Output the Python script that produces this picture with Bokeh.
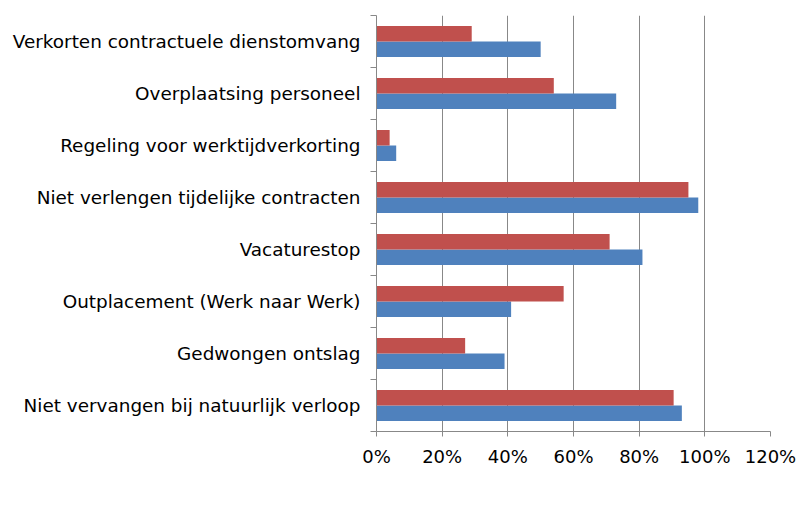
from bokeh.plotting import figure
from bokeh.models import (Range1d, FixedTicker, PrintfTickFormatter, Legend, LegendItem,
                          ColumnDataSource)
from bokeh.layouts import column
from bokeh.embed import file_html
from bokeh.resources import INLINE

categories = [
    "Verkorten contractuele dienstomvang",
    "Overplaatsing personeel",
    "Regeling voor werktijdverkorting",
    "Niet verlengen tijdelijke contracten",
    "Vacaturestop",
    "Outplacement (Werk naar Werk)",
    "Gedwongen ontslag",
    "Niet vervangen bij natuurlijk verloop",
]
wjk = [50, 73, 6, 98, 81, 41, 39, 93]
zorg = [29, 54, 4, 95, 71, 57, 27, 90.5]
x_ticks = [0, 20, 40, 60, 80, 100, 120]
series_names = ["WJK", "Zorg"]
series_colors = ["#4F81BD", "#C0504D"]

FONT = "DejaVu Sans"
FS = "18px"
FS_Y = "18.4px"
GRAY = "#888888"

n = len(categories)
centers = [n - 0.5 - i for i in range(n)]
bar_h = 0.3

src = ColumnDataSource(dict(
    y_wjk=[c - bar_h / 2 for c in centers],
    y_zorg=[c + bar_h / 2 for c in centers],
    wjk=wjk, zorg=zorg, cat=categories,
))

p = figure(width=797, height=497, output_backend="svg", toolbar_location=None,
           x_range=Range1d(0, 120), y_range=Range1d(0, n),
           min_border_left=376, min_border_right=27, min_border_top=15, min_border_bottom=66)
p.outline_line_color = None
p.background_fill_color = "white"
p.border_fill_color = "white"

p.hbar(y="y_wjk", right="wjk", left=0, height=bar_h, source=src,
       fill_color=series_colors[0], line_color=None)
p.hbar(y="y_zorg", right="zorg", left=0, height=bar_h, source=src,
       fill_color=series_colors[1], line_color=None)

# x axis
xa = p.xaxis[0]
xa.ticker = FixedTicker(ticks=x_ticks)
xa.formatter = PrintfTickFormatter(format="%d%%")
xa.axis_line_color = GRAY
xa.major_tick_line_color = GRAY
xa.major_tick_out = 5
xa.major_tick_in = 0
xa.minor_tick_line_color = None
xa.major_label_text_font = FONT
xa.major_label_text_font_size = FS
xa.major_label_text_color = "black"
xa.major_label_standoff = 9

# y axis: labels at category centres, ticks at boundaries
ya = p.yaxis[0]
ya.ticker = FixedTicker(ticks=centers, minor_ticks=list(range(n + 1)))
ya.major_label_overrides = {c: lab for c, lab in zip(centers, categories)}
ya.axis_line_color = GRAY
ya.major_tick_line_color = None
ya.minor_tick_line_color = GRAY
ya.minor_tick_out = 6
ya.minor_tick_in = 0
ya.major_label_text_font = FONT
ya.major_label_text_font_size = FS_Y
ya.major_label_text_color = "black"
ya.major_label_standoff = 10

p.xgrid.grid_line_color = GRAY
p.xgrid.grid_line_width = 1
p.xgrid.ticker = FixedTicker(ticks=x_ticks)
p.ygrid.grid_line_color = None

# legend strip below the chart
p2 = figure(width=797, height=22, output_backend="svg", toolbar_location=None,
            x_axis_location=None, y_axis_location=None, min_border=0,
            x_range=Range1d(0, 1), y_range=Range1d(0, 1))
p2.outline_line_color = None
p2.grid.visible = False
p2.background_fill_color = "white"
p2.border_fill_color = "white"

items = []
for name, col in zip(series_names, series_colors):
    r = p2.hbar(y=[], right=[], left=0, height=0.3, fill_color=col, line_color=None)
    items.append(LegendItem(label=name, renderers=[r]))

legend = Legend(items=items, orientation="horizontal", location=(525, 0),
                glyph_width=12, glyph_height=12, label_standoff=4, spacing=18,
                padding=0, margin=0, border_line_color=None, background_fill_alpha=0,
                label_text_font=FONT, label_text_font_size=FS)
p2.add_layout(legend, "center")

layout = column(p, p2, spacing=0)
open("out.html", "w").write(file_html(layout, INLINE))
